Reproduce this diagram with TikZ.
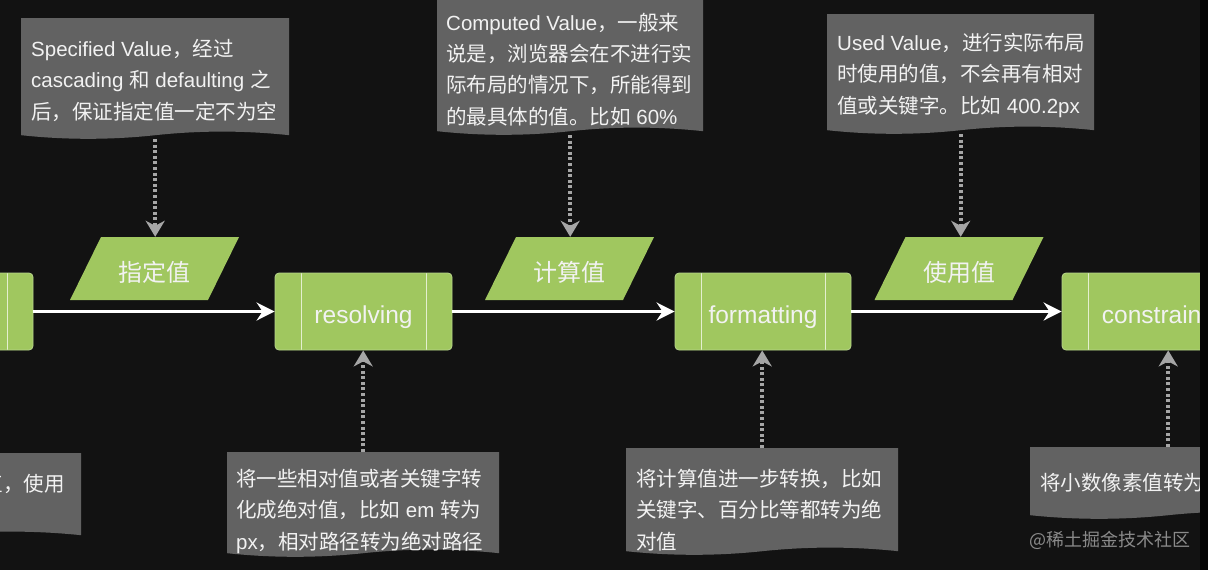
\documentclass[tikz,border=0pt]{standalone}
\usepackage{fontspec}
\setmainfont{Liberation Sans}
\newfontfamily\cjk{Noto Sans CJK SC}
\usetikzlibrary{arrows.meta,calc}
\definecolor{bgc}{HTML}{121212}
\definecolor{stripc}{HTML}{050505}
\definecolor{docgray}{HTML}{626262}
\definecolor{pgreen}{HTML}{A0C75F}
\definecolor{pline}{HTML}{B8D68C}
\definecolor{pinner}{HTML}{E4EFD0}
\definecolor{txtw}{HTML}{F2F2F2}
\definecolor{arrgray}{HTML}{A6A6A6}
\definecolor{wmgray}{HTML}{8A8A8A}
\newcommand\zh[1]{{\cjk #1}}
\begin{document}
\begin{tikzpicture}[x=1pt,y=-1pt,
  docbox/.style={rectangle, inner sep=0pt, fill=bgc, anchor=north west,
    path picture={
      \fill[docgray] let \p1=(path picture bounding box.north west),
        \p2=(path picture bounding box.south east),
        \n1={(\x2-\x1)/6}, \n2={(\x1+\x2)/2} in
        (\x1,\y1) -- (\x2,\y1) -- (\x2,\y2+3.6pt)
        .. controls (\x2-\n1,\y2+8.4pt) and (\n2+\n1,\y2+8.4pt) .. (\n2,\y2+3.6pt)
        .. controls (\n2-\n1,\y2-1.2pt) and (\x1+\n1,\y2-1.2pt) .. (\x1,\y2+3.6pt) -- cycle;}},
  doctext/.style={anchor=north west, inner sep=0pt, align=left, text=txtw,
    font=\fontsize{20.5}{31.3}\selectfont},
  para/.style={rectangle, inner sep=0pt, minimum width=169pt, minimum height=63pt,
    fill=bgc, text=txtw, font=\cjk\fontsize{24}{28}\selectfont,
    text height=27pt, text depth=0.8pt,
    path picture={
      \fill[pgreen] let \p1=(path picture bounding box.north west),
        \p2=(path picture bounding box.south east) in
        (\x1+31pt,\y1) -- (\x2,\y1) -- (\x2-31pt,\y2) -- (\x1,\y2) -- cycle;}},
  process/.style={rectangle, rounded corners=4pt, fill=pgreen, draw=pline,
    line width=0.8pt, minimum height=77pt, text=txtw,
    font=\fontsize{24.5}{28}\selectfont, text height=24pt, text depth=1pt,
    path picture={
      \draw[draw=pinner, line width=1pt]
        ([xshift=26pt]path picture bounding box.north west) --
        ([xshift=26pt]path picture bounding box.south west);
      \draw[draw=pinner, line width=1pt]
        ([xshift=-26pt]path picture bounding box.north east) --
        ([xshift=-26pt]path picture bounding box.south east);}},
  mainarrow/.style={draw=white, line width=3.2pt,
    -{Stealth[length=18pt,width=18pt,inset=6pt]}},
  dotarrow/.style={draw=arrgray, line width=3.6pt, dash pattern=on 3pt off 2.6pt,
    -{Stealth[length=16pt,width=19pt,inset=5pt]}},
  wm/.style={inner sep=0pt, text=wmgray, font=\cjk\fontsize{18}{22}\selectfont}
]
\useasboundingbox (0,0) rectangle (1208,570);
\fill[bgc] (0,0) rectangle (1208,570);
\begin{scope}
\clip (0,0) rectangle (1200,570);
% top description boxes
\node[docbox, minimum width=268pt, minimum height=120.6pt] (d1) at (21,18) {};
\node[doctext] (t1) at ([shift={(10,21)}]d1.north west)
  {Specified Value\zh{，经过}\\cascading \zh{和} defaulting \zh{之}\\\zh{后，保证指定值一定不为空}};
\node[docbox, minimum width=266pt, minimum height=137.6pt] (d2) at (437,-3) {};
\node[doctext] (t2) at ([shift={(9,15.7)}]d2.north west)
  {Computed Value\zh{，一般来}\\\zh{说是，浏览器会在不进行实}\\\zh{际布局的情况下，所能得到}\\\zh{的最具体的值。比如} 60\%};
\node[docbox, minimum width=267pt, minimum height=119.6pt] (d3) at (827,14) {};
\node[doctext] (t3) at ([shift={(10,19)}]d3.north west)
  {Used Value\zh{，进行实际布局}\\\zh{时使用的值，不会再有相对}\\\zh{值或关键字。比如} 400.2px};
% bottom description boxes
\node[docbox, minimum width=281pt, minimum height=85.6pt] (da) at (-200,453) {};
\node[doctext] (ta) at ([shift={(182.5,21)}]da.north west) {\zh{值，使用}};
\node[docbox, minimum width=272pt, minimum height=104.6pt] (db) at (227,452) {};
\node[doctext] (tb) at ([shift={(9,17)}]db.north west)
  {\zh{将一些相对值或者关键字转}\\\zh{化成绝对值，比如} em \zh{转为}\\px\zh{，相对路径转为绝对路径}};
\node[docbox, minimum width=272pt, minimum height=106.6pt] (dc) at (626,448) {};
\node[doctext] (tc) at ([shift={(10,21)}]dc.north west)
  {\zh{将计算值进一步转换，比如}\\\zh{关键字、百分比等都转为绝}\\\zh{对值}};
\node[docbox, minimum width=276pt, minimum height=71.6pt] (dd) at (1030,447) {};
\node[doctext] (td) at ([shift={(10,26)}]dd.north west) {\zh{将小数像素值转为}};
% value parallelograms
\node[para] (p1) at (154.5,268.5) {指定值};
\node[para] (p2) at (569.5,268.5) {计算值};
\node[para] (p3) at (959,268.5) {使用值};
% process boxes
\node[process, minimum width=177pt] (p0) at (-55.5,311.5) {};
\node[process, minimum width=177pt] (res) at (363.5,311.5) {resolving};
\node[process, minimum width=176pt] (fmt) at (763,311.5) {formatting};
\node[process, minimum width=212pt] (con) at (1168,311.5) {constraining};
% main flow
\draw[mainarrow] (p0) -- (res);
\draw[mainarrow] (res) -- (fmt);
\draw[mainarrow] (fmt) -- (con);
% dotted connectors
\draw[dotarrow] (d1.south) -- (d1.south |- p1.north);
\draw[dotarrow] (d2.south) -- (d2.south |- p2.north);
\draw[dotarrow] (d3.south) -- (d3.south |- p3.north);
\draw[dotarrow] (db.north) -- (db.north |- res.south);
\draw[dotarrow] (dc.north) -- (dc.north |- fmt.south);
\draw[dotarrow] (dd.north) -- (dd.north |- con.south);
% watermark
\node[wm, anchor=west] (wmk) at (1029,540) {@稀土掘金技术社区};
\end{scope}
\fill[stripc] (1200,0) rectangle (1208,570);
\end{tikzpicture}
\end{document}
